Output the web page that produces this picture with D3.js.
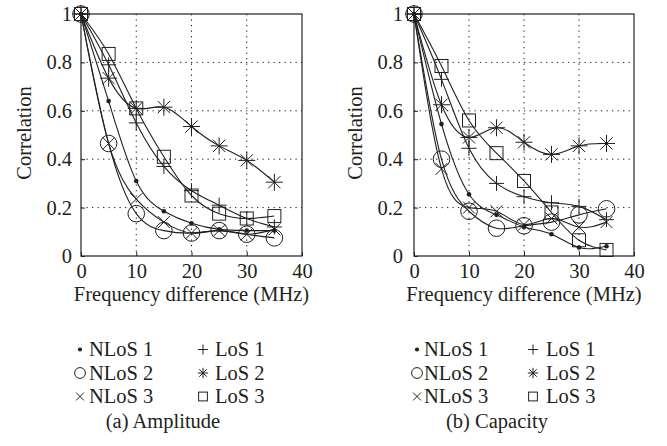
<!DOCTYPE html>
<html>
<head>
<meta charset="utf-8">
<script src="https://cdn.jsdelivr.net/npm/d3@7"></script>
<style>
  body { margin: 0; background: #fff; }
  svg text { font-family: "Liberation Serif", "DejaVu Serif", serif; fill: #231f20; }
</style>
</head>
<body>
<svg width="667" height="446"></svg>
<script>
// Datos
var freq = [0, 5, 10, 15, 20, 25, 30, 35];
var xTicks = [0, 10, 20, 30, 40];
var yTicks = [0, 0.2, 0.4, 0.6, 0.8, 1];
var yTickLabels = ['0', '0.2', '0.4', '0.6', '0.8', '1'];
var seriesNames = ['NLoS 1', 'NLoS 2', 'NLoS 3', 'LoS 1', 'LoS 2', 'LoS 3'];
var seriesMarks = ['dot', 'circle', 'cross', 'plus', 'star', 'square'];

// (a) Amplitude
var ampNLoS1 = [1, 0.64, 0.31, 0.185, 0.135, 0.11, 0.105, 0.105];
var ampNLoS2 = [1, 0.465, 0.175, 0.105, 0.095, 0.105, 0.09, 0.075];
var ampNLoS3 = [1, 0.465, 0.235, 0.14, 0.095, 0.105, 0.09, 0.11];
var ampLoS1 = [1, 0.79, 0.55, 0.37, 0.27, 0.21, 0.155, 0.12];
var ampLoS2 = [1, 0.735, 0.61, 0.615, 0.535, 0.455, 0.395, 0.305];
var ampLoS3 = [1, 0.835, 0.61, 0.41, 0.25, 0.175, 0.155, 0.165];

// (b) Capacity
var capNLoS1 = [1, 0.545, 0.255, 0.17, 0.12, 0.09, 0.035, 0.04];
var capNLoS2 = [1, 0.4, 0.185, 0.115, 0.125, 0.14, 0.17, 0.195];
var capNLoS3 = [1, 0.36, 0.2, 0.185, 0.13, 0.155, 0.12, 0.14];
var capLoS1 = [1, 0.73, 0.445, 0.3, 0.245, 0.22, 0.205, 0.15];
var capLoS2 = [1, 0.625, 0.49, 0.53, 0.47, 0.42, 0.455, 0.465];
var capLoS3 = [1, 0.785, 0.56, 0.425, 0.31, 0.18, 0.065, 0.025];

var panels = [
    {caption: '(a) Amplitude', left: 81, right: 302, labX: 24, tickPad: 9,
     series: [ampNLoS1, ampNLoS2, ampNLoS3, ampLoS1, ampLoS2, ampLoS3],
     legX: 80, legT: 89, legX2: 203, legT2: 215, capX: 163},
    {caption: '(b) Capacity', left: 414, right: 634, labX: 355, tickPad: 11,
     series: [capNLoS1, capNLoS2, capNLoS3, capLoS1, capLoS2, capLoS3],
     legX: 417, legT: 424, legX2: 533, legT2: 546, capX: 497}
];

var yTop = 14, yBottom = 256;
var fs = 20.5;
var svg = d3.select('svg');
var ink = '#231f20';

// tamaños de los marcadores: grafica y leyenda
var markSize = {
    plot: {dot: 2.3, circle: 8.3, square: 6.5, plus: 7.5, star: 8.5, cross: 6},
    legend: {dot: 2.1, circle: 5.4, square: 4.4, plus: 5, star: 5.2, cross: 3.9}
};

function drawMark(g, type, x, y, sz) {
    var r = sz[type];
    if (type === 'dot') {
        g.append('circle').attr('cx', x).attr('cy', y).attr('r', r).attr('fill', ink);
    } else if (type === 'circle') {
        g.append('circle').attr('cx', x).attr('cy', y).attr('r', r)
            .attr('fill', 'none').attr('stroke', ink).attr('stroke-width', 1);
    } else if (type === 'square') {
        g.append('rect').attr('x', x - r).attr('y', y - r)
            .attr('width', 2 * r).attr('height', 2 * r)
            .attr('fill', 'none').attr('stroke', ink).attr('stroke-width', 1);
    } else {
        var p = d3.path();
        var b = type === 'star' ? r * 0.72 : r;
        if (type === 'plus' || type === 'star') {
            p.moveTo(x - r, y); p.lineTo(x + r, y);
            p.moveTo(x, y - r); p.lineTo(x, y + r);
        }
        if (type === 'cross' || type === 'star') {
            p.moveTo(x - b, y - b); p.lineTo(x + b, y + b);
            p.moveTo(x - b, y + b); p.lineTo(x + b, y - b);
        }
        g.append('path').attr('d', p.toString()).attr('fill', 'none')
            .attr('stroke', ink).attr('stroke-width', 1);
    }
}

panels.forEach(function(pn) {
    var xScale = d3.scaleLinear().domain([0, 40]).range([pn.left, pn.right]);
    var yScale = d3.scaleLinear().domain([0, 1]).range([yBottom, yTop]);
    var g = svg.append('g');

    // rejilla punteada
    g.selectAll('line.gx').data([10, 20, 30]).enter().append('line')
        .attr('x1', function(d) { return xScale(d); })
        .attr('x2', function(d) { return xScale(d); })
        .attr('y1', yTop).attr('y2', yBottom)
        .attr('stroke', ink).attr('stroke-width', 1).attr('stroke-dasharray', '1.3,4.2');
    g.selectAll('line.gy').data([0.2, 0.4, 0.6, 0.8]).enter().append('line')
        .attr('y1', function(d) { return yScale(d); })
        .attr('y2', function(d) { return yScale(d); })
        .attr('x1', pn.left).attr('x2', pn.right)
        .attr('stroke', ink).attr('stroke-width', 1).attr('stroke-dasharray', '1.3,4.2');

    // caja
    g.append('rect').attr('x', pn.left).attr('y', yTop)
        .attr('width', pn.right - pn.left).attr('height', yBottom - yTop)
        .attr('fill', 'none').attr('stroke', ink).attr('stroke-width', 1.2);

    // ticks
    var xAxis = d3.axisBottom(xScale).tickValues(xTicks).tickSize(-4).tickPadding(7.5)
        .tickFormat(d3.format('d'));
    var gx = g.append('g').attr('transform', 'translate(0,' + yBottom + ')').call(xAxis);
    var yAxis = d3.axisLeft(yScale).tickValues(yTicks).tickSize(-4).tickPadding(pn.tickPad)
        .tickFormat(function(d, i) { return yTickLabels[i]; });
    var gy = g.append('g').attr('transform', 'translate(' + pn.left + ',0)').call(yAxis);
    [gx, gy].forEach(function(a) {
        a.select('.domain').remove();
        a.selectAll('line').attr('stroke', ink);
        a.selectAll('text').attr('font-size', fs).attr('font-family', null).attr('fill', ink);
    });

    // etiquetas
    g.append('text').attr('x', (pn.left + pn.right) / 2).attr('y', 301)
        .attr('text-anchor', 'middle').attr('font-size', fs).text('Frequency difference (MHz)');
    g.append('text').attr('transform', 'translate(' + (pn.labX + 7) + ',' + 133 + ') rotate(-90)')
        .attr('text-anchor', 'middle').attr('font-size', fs).text('Correlation');

    // curvas
    var line = d3.line()
        .x(function(d, i) { return xScale(freq[i]); })
        .y(function(d) { return yScale(d); })
        .curve(d3.curveNatural);
    pn.series.forEach(function(s) {
        g.append('path').attr('d', line(s)).attr('fill', 'none')
            .attr('stroke', ink).attr('stroke-width', 1.1);
    });
    pn.series.forEach(function(s, k) {
        s.forEach(function(v, i) {
            drawMark(g, seriesMarks[k], xScale(freq[i]), yScale(v), markSize.plot);
        });
    });

    // leyenda
    for (var k = 0; k < 6; k++) {
        var col = k < 3 ? 0 : 1;
        var row = k % 3;
        var base = 356 + row * 23.5;
        drawMark(g, seriesMarks[k], col === 0 ? pn.legX : pn.legX2, base - 6.5, markSize.legend);
        g.append('text').attr('x', col === 0 ? pn.legT : pn.legT2).attr('y', base)
            .attr('font-size', fs).text(seriesNames[k]);
    }

    g.append('text').attr('x', pn.capX).attr('y', 428).attr('text-anchor', 'middle')
        .attr('font-size', fs).text(pn.caption);
});
</script>
</body>
</html>
